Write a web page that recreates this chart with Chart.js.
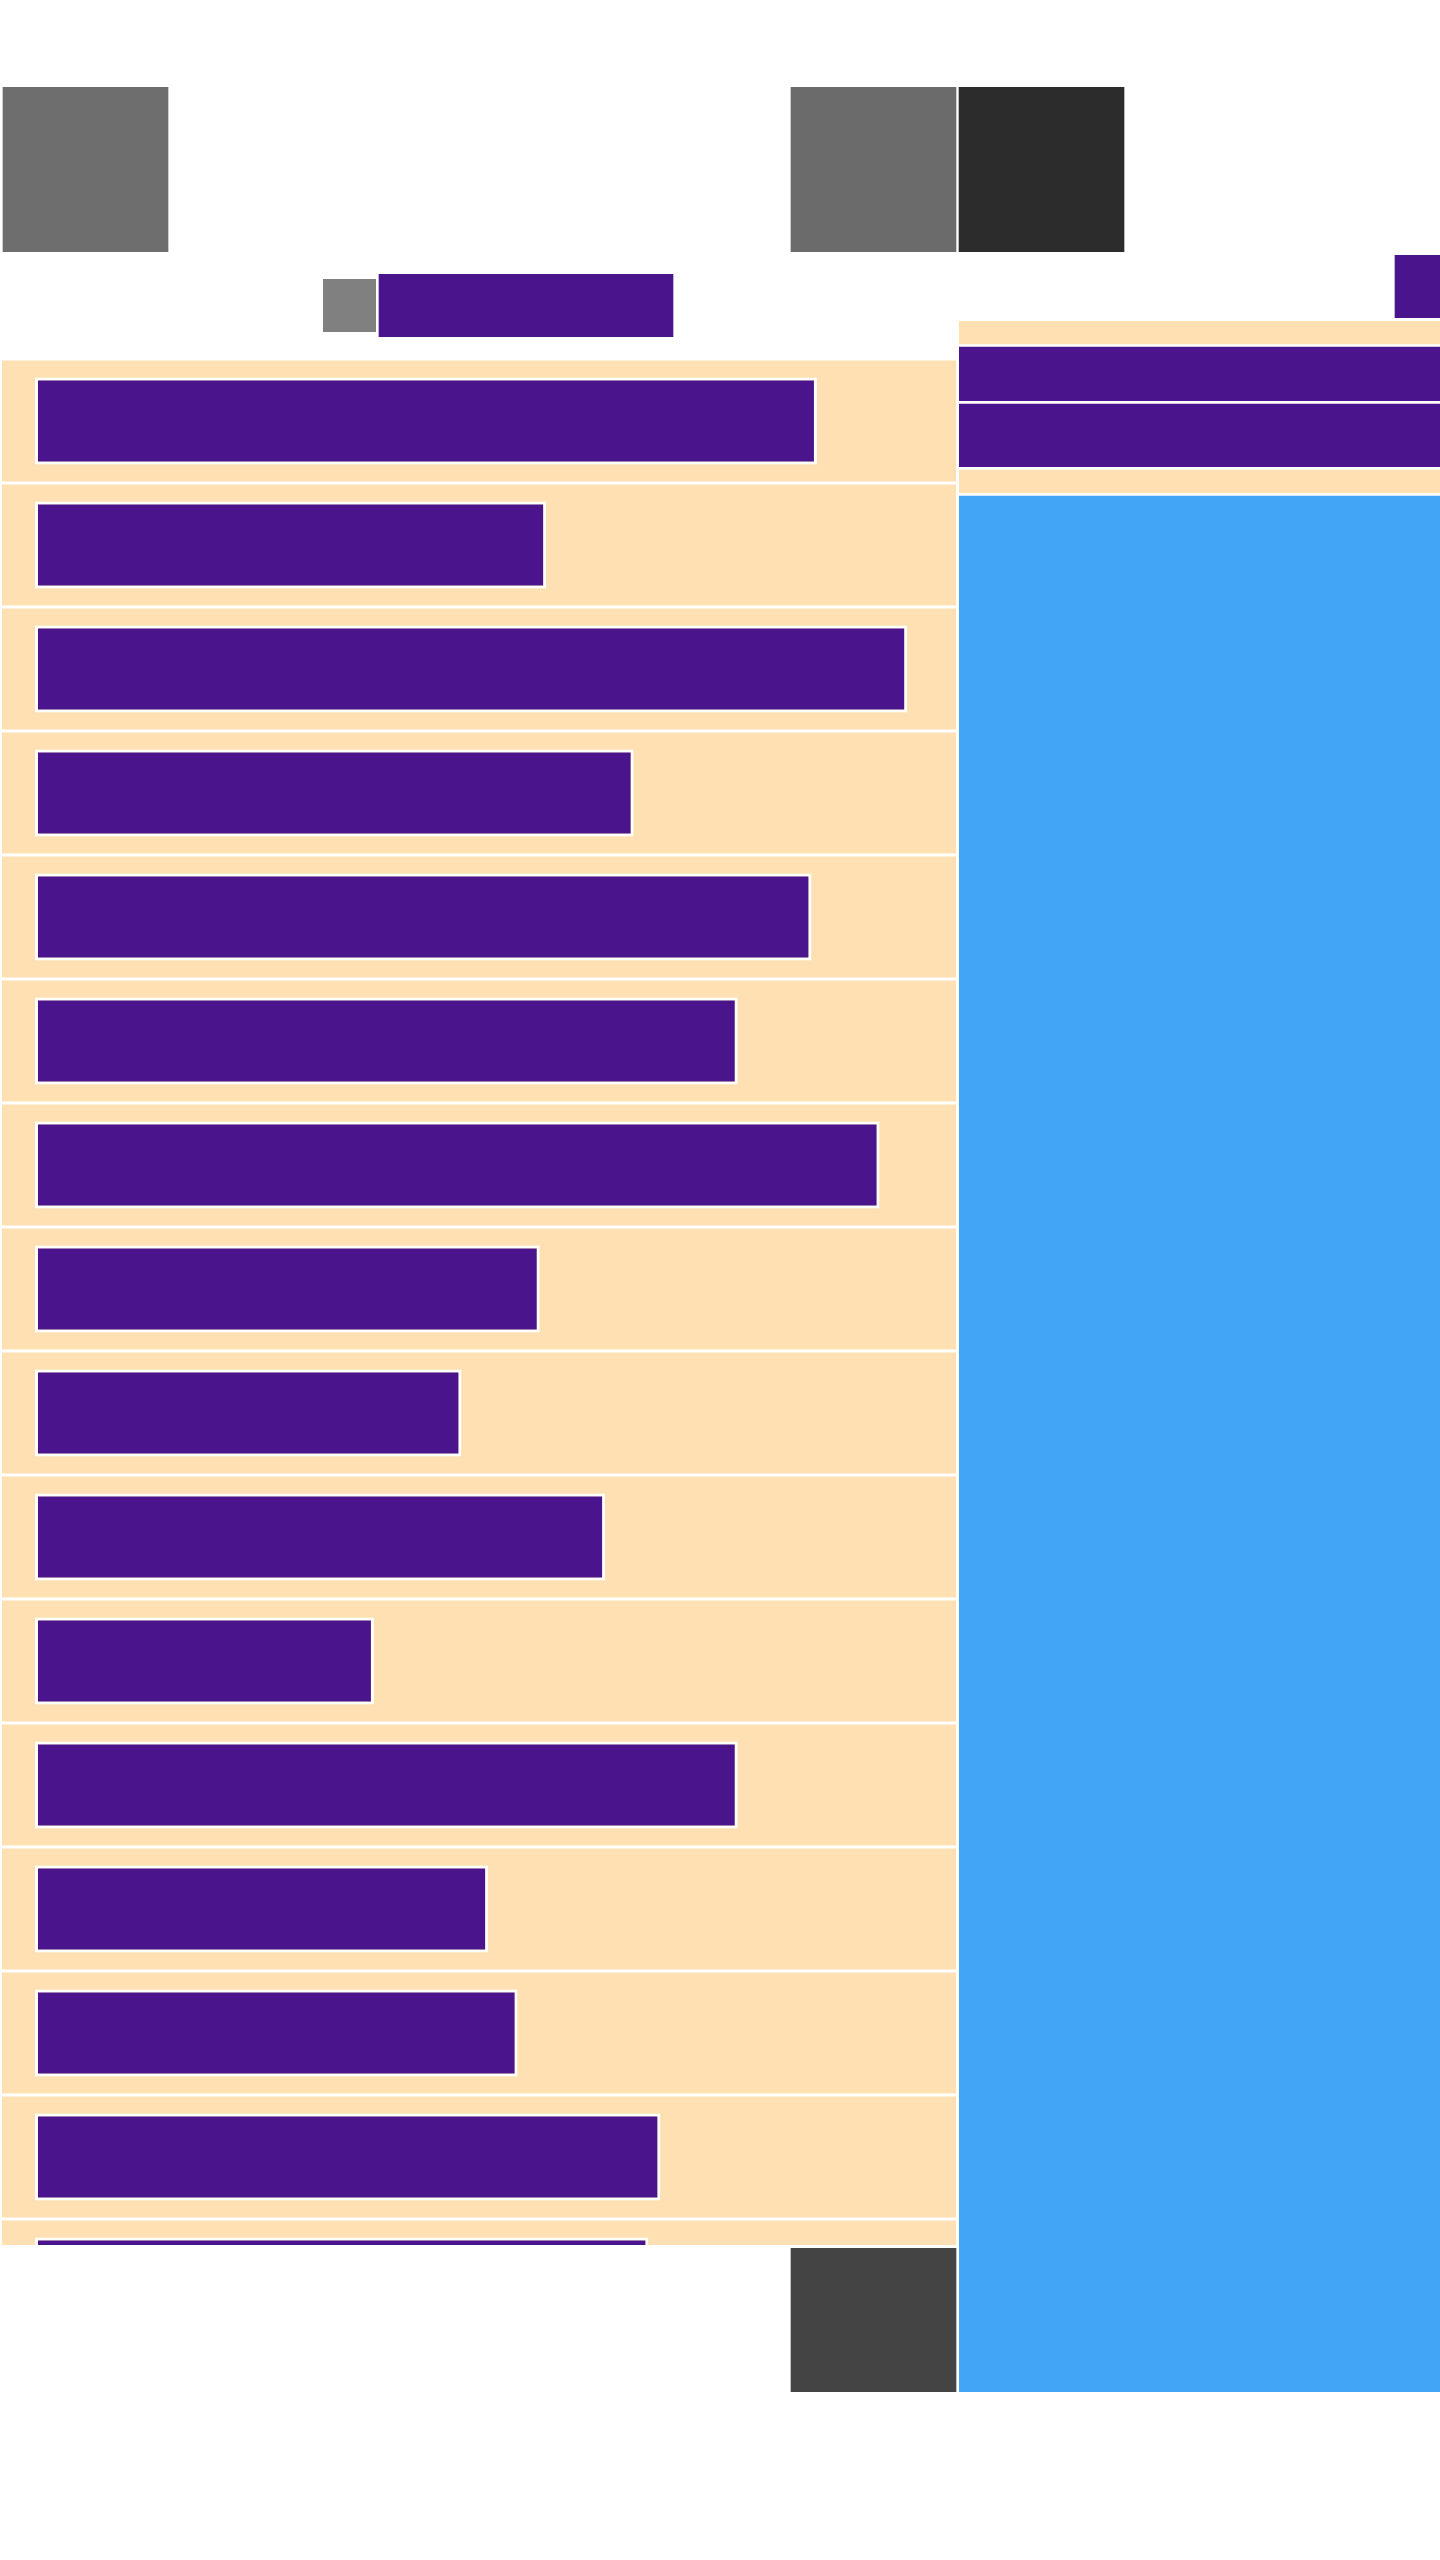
<!DOCTYPE html>
<html>
<head>
<meta charset="utf-8">
<script src="https://cdn.jsdelivr.net/npm/chart.js@4.4.0/dist/chart.umd.min.js"></script>
<style>
  html, body { margin: 0; padding: 0; background: #ffffff; }
  body { width: 1440px; height: 2560px; position: relative; overflow: hidden; font-family: "Noto Sans", sans-serif; }
  .box { position: absolute; overflow: hidden; }
  canvas { display: block; }
</style>
</head>
<body>
<script>
// ---------------- data ----------------
const categories = ['1', '2', '3', '4', '5', '6', '7', '8', '9', '10', '11', '12', '13', '14', '15', '16'];
const values = [84.9, 55.5, 94.7, 65.0, 84.3, 76.3, 91.7, 54.8, 46.3, 61.9, 36.8, 76.3, 49.2, 52.4, 67.9, 66.6];
const trackMax = 100;
const axisMin = -3.58;

const stackLabels = ['a', 'b', 'c', 'd', 'e'];
const stackValues = [23, 57, 66, 26, 1899];

const topBlocks = [[3, 168], [791, 956], [959, 1124]];
const midBlocks = [[323, 376], [379, 673]];
const sideBlocks = [[1395, 1440]];
const bottomBlocks = [[791, 956]];

// ---------------- styles ----------------
const PEACH = '#FFE0B2';
const PURPLE = '#4A148C';
const BLUE = '#42A5F5';
const stackColors = [PEACH, PURPLE, PURPLE, PEACH, BLUE];
const topColors = ['#6e6e6e', '#6b6b6b', '#2c2c2c'];
const midColors = ['#808080', PURPLE];
const sideColors = [PURPLE];
const bottomColors = ['#444444'];

function makeCanvas(left, top, w, h, clipH) {
  const div = document.createElement('div');
  div.className = 'box';
  div.style.left = left + 'px';
  div.style.top = top + 'px';
  div.style.width = w + 'px';
  div.style.height = (clipH || h) + 'px';
  const c = document.createElement('canvas');
  c.width = w; c.height = h;
  c.style.width = w + 'px'; c.style.height = h + 'px';
  div.appendChild(c);
  document.body.appendChild(div);
  return c;
}

const base = {
  responsive: false,
  animation: false,
  events: [],
  layout: { padding: 0 },
  plugins: { legend: { display: false }, tooltip: { enabled: false }, title: { display: false } }
};

// ---------------- main ranked bars with tracks ----------------
new Chart(makeCanvas(2, 359, 954, 1984, 1886), {
  type: 'bar',
  data: {
    labels: categories,
    datasets: [
      {
        label: 'Value', data: values, backgroundColor: PURPLE,
        borderColor: '#ffffff', borderWidth: 3, borderSkipped: false,
        barPercentage: 0.70, categoryPercentage: 1, grouped: false, order: 0
      },
      {
        label: 'Track', data: categories.map(() => trackMax), base: axisMin,
        backgroundColor: PEACH, borderWidth: 0,
        barPercentage: 0.976, categoryPercentage: 1, grouped: false, order: 1
      }
    ]
  },
  options: Object.assign({}, base, {
    indexAxis: 'y',
    scales: {
      x: { type: 'linear', min: axisMin, max: trackMax, display: false },
      y: { display: false }
    }
  })
});

// ---------------- right stacked column ----------------
const stackTotal = stackValues.reduce((a, b) => a + b, 0);
new Chart(makeCanvas(959, 321, 481, stackTotal), {
  type: 'bar',
  data: {
    labels: ['col'],
    datasets: stackValues.map((v, i) => ({
      label: stackLabels[i], data: [v], backgroundColor: stackColors[i],
      borderColor: '#ffffff',
      borderWidth: i === 0 ? 0 : { top: 3, right: 0, bottom: 0, left: 0 },
      borderSkipped: false, barPercentage: 1, categoryPercentage: 1
    }))
  },
  options: Object.assign({}, base, {
    scales: {
      x: { stacked: true, display: false },
      y: { stacked: true, reverse: true, min: 0, max: stackTotal, display: false }
    }
  })
});

// ---------------- block rows ----------------
function blockRow(top, height, blocks, colors, percents) {
  new Chart(makeCanvas(0, top, 1440, height), {
    type: 'bar',
    data: {
      labels: ['row'],
      datasets: blocks.map((b, i) => ({
        label: 'b' + i, data: [b], backgroundColor: colors[i], borderWidth: 0,
        barPercentage: percents ? percents[i] : 1, categoryPercentage: 1, grouped: false
      }))
    },
    options: Object.assign({}, base, {
      indexAxis: 'y',
      scales: {
        x: { type: 'linear', min: 0, max: 1440, display: false },
        y: { display: false }
      }
    })
  });
}

blockRow(87, 165, topBlocks, topColors);
blockRow(274, 63, midBlocks, midColors, [53 / 63, 1]);
blockRow(255, 63, sideBlocks, sideColors);
blockRow(2248, 144, bottomBlocks, bottomColors);
</script>
</body>
</html>
